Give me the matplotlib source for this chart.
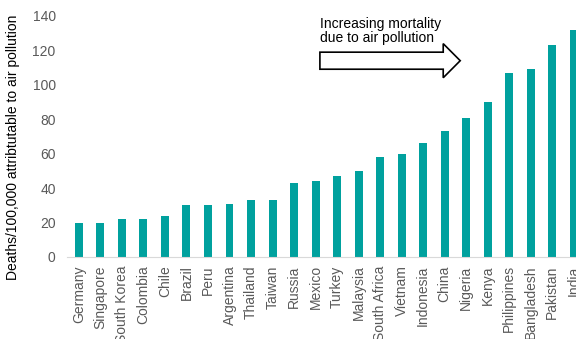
import numpy as np
import matplotlib.pyplot as plt
from matplotlib.patches import FancyArrow

plt.rcParams['font.family'] = ['Liberation Sans', 'DejaVu Sans']

countries = ['Germany', 'Singapore', 'South Korea', 'Colombia', 'Chile', 'Brazil',
             'Peru', 'Argentina', 'Thailand', 'Taiwan', 'Russia', 'Mexico', 'Turkey',
             'Malaysia', 'South Africa', 'Vietnam', 'Indonesia', 'China', 'Nigeria',
             'Kenya', 'Philippines', 'Bangladesh', 'Pakistan', 'India']
deaths = [20, 20, 22, 22, 24, 30, 30, 31, 33, 33, 43, 44, 47, 50, 58, 60, 66, 73,
          81, 90, 107, 109, 123, 132]

fig = plt.figure(figsize=(5.76, 3.39), dpi=100)
ax = fig.add_axes([0.116, 0.242, 0.884, 0.711])

x = np.arange(len(countries))
ax.bar(x, deaths, width=0.37, color='#00A19E')

ax.set_xlim(-0.56, 23.1)
ax.set_ylim(0, 140)
ax.set_yticks(range(0, 141, 20))
ax.set_xticks(x)
ax.set_xticklabels(countries, rotation=90, fontsize=10, color='#595959')
ax.tick_params(axis='y', labelsize=10, labelcolor='#595959', length=0, pad=8)
ax.tick_params(axis='x', length=0, pad=6)
for s in ['top', 'right', 'left']:
    ax.spines[s].set_visible(False)
ax.spines['bottom'].set_color('#D9D9D9')
ax.set_ylabel('Deaths/100,000 attribtutable to air pollution', fontsize=10)
ax.yaxis.set_label_coords(-0.092, 0.456)

# block arrow with caption
ax.add_patch(FancyArrow(11.2, 114, 6.52, 0, width=9.9, head_width=19.8,
                        head_length=0.79, length_includes_head=True,
                        fc='white', ec='black', lw=1.2, clip_on=False))
ax.text(11.2, 123, 'Increasing mortality\ndue to air pollution', fontsize=10,
        va='bottom', ha='left', linespacing=1.05)

fig.savefig('out.png', dpi=100)
